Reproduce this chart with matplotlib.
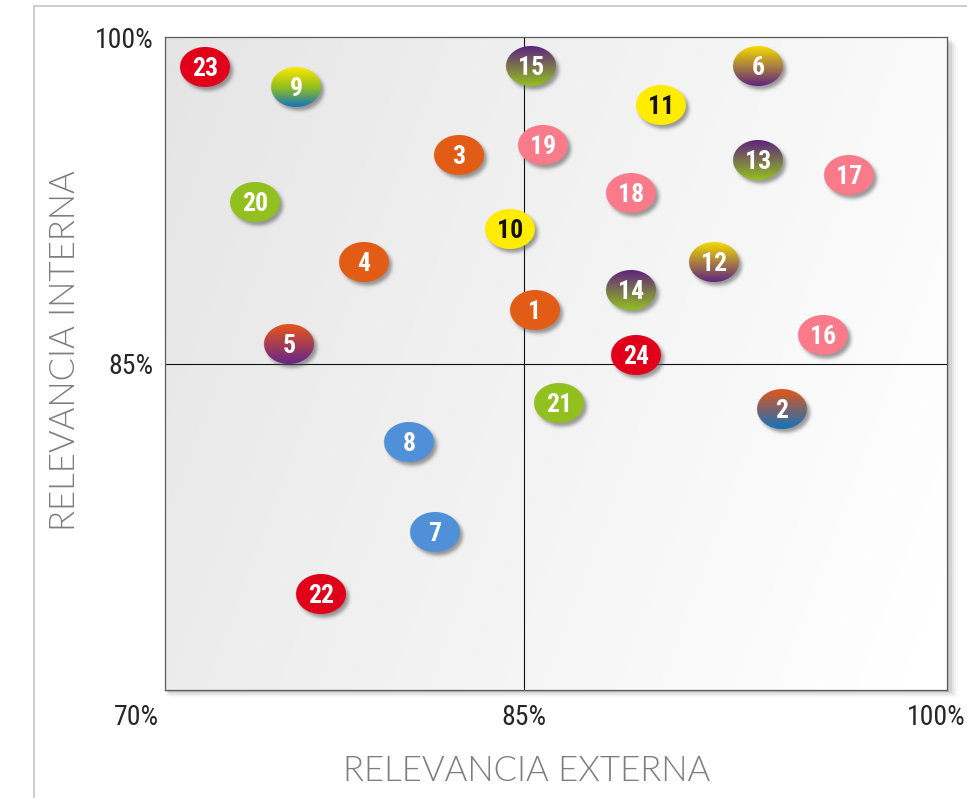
import os
import numpy as np
import matplotlib
matplotlib.use('Agg')
import matplotlib.pyplot as plt
from matplotlib.offsetbox import OffsetImage, AnnotationBbox
from matplotlib import font_manager
from matplotlib.font_manager import FontProperties
from matplotlib.patches import Rectangle
import matplotlib.colors as mcolors
from matplotlib.transforms import ScaledTranslation

# ---------------- data ----------------
labels = [str(i) for i in range(1, 25)]
relevancia_externa = [85.39, 94.15, 82.28, 78.31, 75.18, 93.30, 81.28, 80.19, 75.47, 84.41,
                      89.86, 91.74, 93.30, 88.79, 85.25, 95.60, 96.52, 88.79, 85.67, 73.76,
                      86.24, 76.52, 71.67, 88.97]
relevancia_interna = [87.46, 82.91, 94.58, 89.66, 85.90, 98.67, 77.26, 81.39, 97.70, 91.18,
                      96.88, 89.66, 94.35, 88.38, 98.67, 86.31, 93.66, 92.83, 95.04, 92.42,
                      83.19, 74.41, 98.62, 85.39]
styles = ['orange', 'orange_blue', 'orange', 'orange', 'orange_purple', 'yellow_purple', 'blue',
          'blue', 'yellow_blue', 'yellow', 'yellow', 'yellow_purple', 'purple_green',
          'purple_green', 'purple_green', 'pink', 'pink', 'pink', 'pink', 'green', 'green',
          'red', 'red', 'red']
x_ticks = [70, 85, 100]
x_ticklabels = ['70%', '85%', '100%']
y_ticks = [85, 100]
y_ticklabels = ['85%', '100%']
x_title = 'RELEVANCIA EXTERNA'
y_title = 'RELEVANCIA INTERNA'

palette = {
    'orange': ['#e35d16', '#e35d16'],
    'red': ['#e2001a', '#e2001a'],
    'pink': ['#f97b8b', '#f97b8b'],
    'yellow': ['#ffec00', '#ffec00'],
    'green': ['#93c01f', '#93c01f'],
    'blue': ['#5190d8', '#5190d8'],
    'purple_green': ['#5f237f', '#93c01f'],
    'yellow_purple': ['#f5dc00', '#5f237f'],
    'orange_purple': ['#e8561a', '#66258a'],
    'orange_blue': ['#e2551a', '#1473bb'],
    'yellow_blue': ['#ffe800', '#93c01f', '#1473bb'],
}
dark_text = {'yellow'}

# ---------------- fonts ----------------
WMAP = {'ultralight': 200, 'light': 300, 'normal': 400, 'regular': 400, 'book': 400,
        'medium': 500, 'semibold': 600, 'demibold': 600, 'bold': 700, 'heavy': 800,
        'extra bold': 800, 'black': 900}

def wnum(f):
    w = f.weight
    if isinstance(w, (int, float)):
        return int(w)
    return WMAP.get(str(w).lower(), 400)

def is_cond(f):
    b = os.path.basename(f.fname)
    return (f.stretch in ('condensed', 'semi-condensed', 'extra-condensed', 'ultra-condensed')
            or 'ondensed' in b or 'Narrow' in b or 'Narrow' in f.name or 'ondensed' in f.name)

FONTS = [f for f in font_manager.fontManager.ttflist
         if '[' not in os.path.basename(f.fname) and f.style == 'normal']
PREF = ['Roboto', 'Open Sans', 'Noto Sans', 'Liberation Sans', 'DejaVu Sans', 'Lato']

def pick(cond, wlo, whi, fallback_family, fallback_weight):
    for fam in PREF:
        for f in FONTS:
            if f.name.startswith(fam) and (is_cond(f) == cond) and wlo <= wnum(f) <= whi:
                return FontProperties(fname=f.fname)
    return FontProperties(family=fallback_family, weight=fallback_weight)

fp_bubble = pick(True, 700, 700, 'DejaVu Sans', 'bold')
fp_tick = pick(True, 400, 400, 'DejaVu Sans', 'normal')
fp_title = None
for fam in ['Lato', 'Open Sans', 'Roboto', 'Noto Sans']:
    for f in FONTS:
        if f.name == fam and wnum(f) == 300:
            fp_title = FontProperties(fname=f.fname)
            break
    if fp_title is not None:
        break
if fp_title is None:
    fp_title = FontProperties(family='DejaVu Sans')

# ---------------- scale ----------------
LEFT_PX, RIGHT_PX = 359.0, 423.0

def fwd(x):
    x = np.asarray(x, dtype=float)
    return np.where(x <= 85, (x - 70) * LEFT_PX / 15, LEFT_PX + (x - 85) * RIGHT_PX / 15)

def inv(v):
    v = np.asarray(v, dtype=float)
    return np.where(v <= LEFT_PX, 70 + v * 15 / LEFT_PX, 85 + (v - LEFT_PX) * 15 / RIGHT_PX)

# ---------------- bubble image ----------------
def gblur(a, sigma):
    r = int(3 * sigma) + 1
    k = np.exp(-0.5 * (np.arange(-r, r + 1) / sigma) ** 2)
    k /= k.sum()
    a = np.apply_along_axis(lambda m: np.convolve(m, k, mode='same'), 0, a)
    a = np.apply_along_axis(lambda m: np.convolve(m, k, mode='same'), 1, a)
    return a

def bubble_img(cols, w=50, h=40, pad=10):
    W, H = w + 2 * pad, h + 2 * pad
    yy, xx = np.mgrid[0:H, 0:W] + 0.5
    cx, cy = W / 2, H / 2
    a, b = w / 2, h / 2

    def mask(cx_, cy_):
        d = np.sqrt(((xx - cx_) / a) ** 2 + ((yy - cy_) / b) ** 2)
        return np.clip((1 - d) * b + 0.5, 0, 1)

    m = mask(cx, cy)
    sh = gblur(mask(cx + 3, cy + 3.5), 1.8) * 0.6
    t = np.clip((yy - (cy - b)) / (2 * b), 0, 1)
    rgbs = [np.array(mcolors.to_rgb(c)) for c in cols]
    if len(rgbs) == 2:
        col = rgbs[0][None, None, :] * (1 - t[..., None]) + rgbs[1][None, None, :] * t[..., None]
    else:
        t2 = t[..., None]
        c1 = rgbs[0] * (1 - 2 * t2) + rgbs[1] * (2 * t2)
        c2 = rgbs[1] * (2 - 2 * t2) + rgbs[2] * (2 * t2 - 1)
        col = np.where(t2 < 0.5, c1, c2)
    shc = np.array([0.35, 0.35, 0.35])
    alpha = m + sh * (1 - m)
    rgb = (col * m[..., None] + shc * (sh * (1 - m))[..., None]) / np.maximum(alpha, 1e-6)[..., None]
    return np.dstack([np.clip(rgb, 0, 1), np.clip(alpha, 0, 1)])

# ---------------- figure ----------------
W_PX, H_PX, DPI = 967, 798, 100
fig = plt.figure(figsize=(W_PX / DPI, H_PX / DPI), dpi=DPI)
fig.patch.set_facecolor('white')

ax_l, ax_r, ax_t, ax_b = 165, 947, 37, 690
ax = fig.add_axes([ax_l / W_PX, 1 - ax_b / H_PX, (ax_r - ax_l) / W_PX, (ax_b - ax_t) / H_PX])
ax.set_xscale('function', functions=(fwd, inv))

# outer light border
fig.patches.append(Rectangle((34 / W_PX, -0.1), 2, 1 - 6 / H_PX + 0.1, transform=fig.transFigure,
                             fill=False, edgecolor='#c9c9c9', lw=1.3, zorder=-3))
# soft shadow around plot frame
for i, al in enumerate([0.10, 0.07, 0.05, 0.03, 0.02]):
    o = (i + 1) * 1.5
    fig.patches.append(Rectangle(((ax_l + o * 0.5) / W_PX, 1 - (ax_b + o) / H_PX),
                                 (ax_r - ax_l + o) / W_PX, (ax_b - ax_t) / H_PX,
                                 transform=fig.transFigure, facecolor='black', alpha=al,
                                 edgecolor='none', zorder=-2))

# background gradient in axes
gy, gx = np.mgrid[0:200, 0:200] / 199.0
u = gx * 0.8 + gy * 0.25
v = 0.895 + 0.105 * np.clip(u, 0, 1) ** 0.9
bg = np.dstack([v, v, v])
ax.imshow(bg, extent=(0, 1, 0, 1), transform=ax.transAxes, origin='upper', aspect='auto', zorder=0,
          interpolation='bilinear')
ax.set_xlim(70, 100)
ax.set_ylim(70, 100)

for s in ax.spines.values():
    s.set_color('#5a5a5a')
    s.set_linewidth(0.9)

ax.axvline(85, color='#111111', lw=0.8, zorder=1)
ax.axhline(85, color='#111111', lw=0.8, zorder=1)

# bubbles
for lab, xv, yv, st in zip(labels, relevancia_externa, relevancia_interna, styles):
    img = bubble_img(palette[st])
    ib = OffsetImage(img, zoom=72.0 / DPI, interpolation='bilinear')
    ab = AnnotationBbox(ib, (xv, yv), frameon=False, pad=0, box_alignment=(0.5, 0.5), zorder=3)
    ax.add_artist(ab)
    fs = 18.5
    ax.annotate(lab, (xv, yv), xytext=(0, -fs * 0.36), textcoords='offset points',
                ha='center', va='baseline', fontproperties=fp_bubble, fontsize=fs,
                color='#111111' if st in dark_text else 'white', zorder=5)

# ticks
ax.set_xticks(x_ticks)
ax.set_xticklabels(x_ticklabels)
ax.set_yticks(y_ticks)
ax.set_yticklabels(y_ticklabels)
ax.xaxis.set_minor_locator(matplotlib.ticker.NullLocator())
ax.tick_params(axis='both', length=0, labelcolor='#262626')
ax.tick_params(axis='x', pad=10)
ax.tick_params(axis='y', pad=8)
for t in ax.get_xticklabels() + ax.get_yticklabels():
    t.set_fontproperties(fp_tick)
    t.set_fontsize(20)
xt = ax.get_xticklabels()
xt[0].set_ha('right')
xt[0].set_transform(xt[0].get_transform() + ScaledTranslation(-6 / DPI, 0, fig.dpi_scale_trans))
xt[2].set_ha('right')
xt[2].set_transform(xt[2].get_transform() + ScaledTranslation(19 / DPI, 0, fig.dpi_scale_trans))

# axis titles
ax.set_xlabel(x_title, fontproperties=fp_title, fontsize=25, color='#7d7d7d')
ax.xaxis.label.set_va('center')
ax.xaxis.set_label_coords((527 - ax_l) / (ax_r - ax_l), (ax_b - 771) / (ax_b - ax_t))
ax.set_ylabel(y_title, fontproperties=fp_title, fontsize=25, color='#7d7d7d')
ax.yaxis.label.set_va('center')
ax.yaxis.set_label_coords((65 - ax_l) / (ax_r - ax_l), (ax_b - 351) / (ax_b - ax_t))

fig.savefig('out.png', dpi=DPI)
